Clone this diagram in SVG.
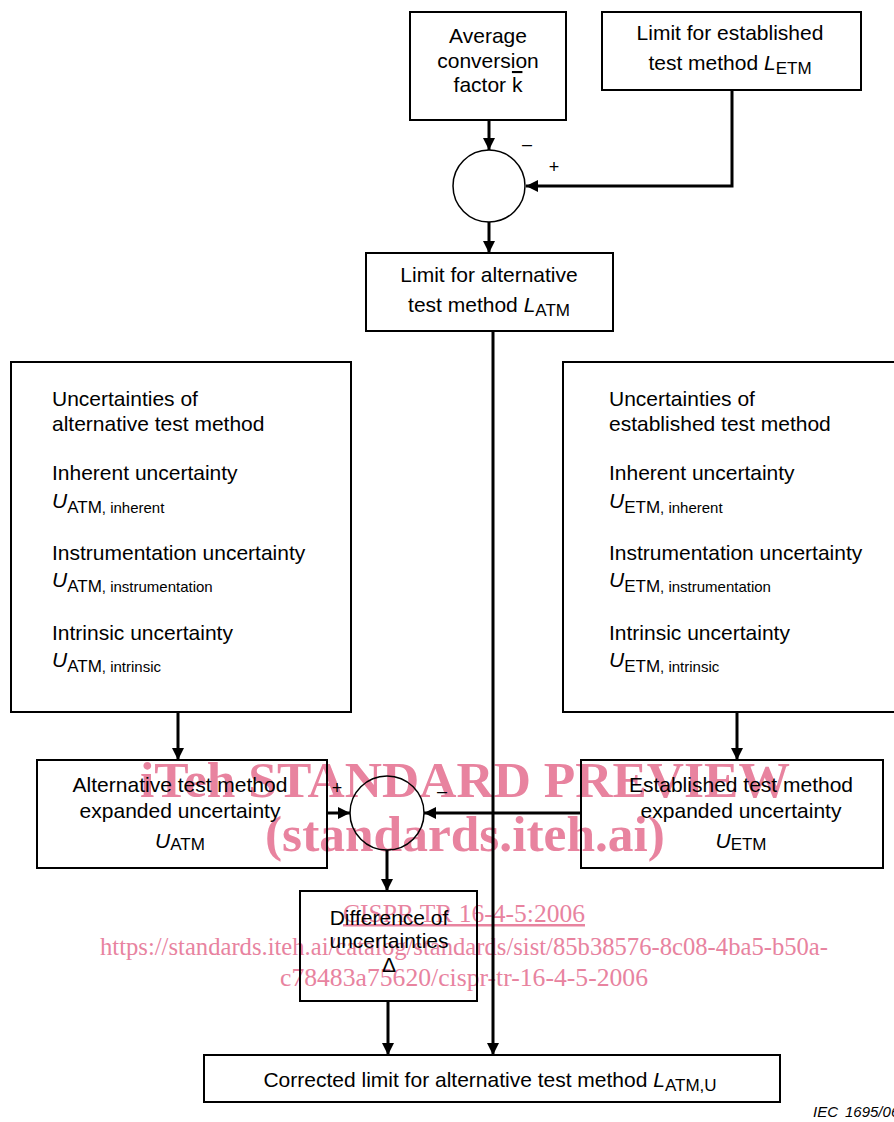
<svg xmlns="http://www.w3.org/2000/svg" width="894" height="1122" viewBox="0 0 894 1122">
  <defs>
    <style>
      .box { fill: none; stroke: #000; stroke-width: 2; }
      .conn { fill: none; stroke: #000; stroke-width: 3; }
      .t { font-family: "Liberation Sans", Arial, sans-serif; font-size: 21px; fill: #000; }
      .c { text-anchor: middle; }
      .it { font-style: italic; }
      .sub { font-size: 17px; }
      .sub2 { font-size: 15px; }
      .sign { font-family: "Liberation Sans", Arial, sans-serif; font-size: 18px; fill: #000; text-anchor: middle; }
      .wm { font-family: "Liberation Serif", "Times New Roman", serif; fill: #e8839f; }
      .wmb { font-weight: bold; font-size: 50px; }
      .wms { font-size: 25px; }
    </style>
    <marker id="arr" markerUnits="userSpaceOnUse" markerWidth="14" markerHeight="14" refX="12" refY="6" orient="auto">
      <path d="M0,0 L12,6 L0,12 z" fill="#000"/>
    </marker>
  </defs>
  <rect width="894" height="1122" fill="#fff"/>

  <g id="watermark">
    <text class="wm wmb" x="140" y="797" textLength="650" lengthAdjust="spacingAndGlyphs">iTeh STANDARD PREVIEW</text>
    <text class="wm wmb" x="265" y="851" textLength="400" lengthAdjust="spacingAndGlyphs">(standards.iteh.ai)</text>
    <text class="wm wms" x="343" y="922" textLength="242" lengthAdjust="spacingAndGlyphs" text-decoration="underline">CISPR TR 16-4-5:2006</text>
    <text class="wm wms" x="100" y="955" textLength="728" lengthAdjust="spacingAndGlyphs">https://standards.iteh.ai/catalog/standards/sist/85b38576-8c08-4ba5-b50a-</text>
    <text class="wm wms" x="280" y="986" textLength="368" lengthAdjust="spacingAndGlyphs">c78483a75620/cispr-tr-16-4-5-2006</text>
  </g>

  <g id="connectors">
    <line class="conn" x1="489" y1="120" x2="489" y2="150" marker-end="url(#arr)"/>
    <path class="conn" d="M732,90 L732,186 L526,186" marker-end="url(#arr)"/>
    <line class="conn" x1="489" y1="222" x2="489" y2="253" marker-end="url(#arr)"/>
    <line class="conn" x1="493" y1="331" x2="493" y2="1055" marker-end="url(#arr)"/>
    <line class="conn" x1="178" y1="712" x2="178" y2="760" marker-end="url(#arr)"/>
    <line class="conn" x1="737" y1="712" x2="737" y2="760" marker-end="url(#arr)"/>
    <line class="conn" x1="327" y1="813" x2="350" y2="813" marker-end="url(#arr)"/>
    <line class="conn" x1="581" y1="813" x2="424" y2="813" marker-end="url(#arr)"/>
    <line class="conn" x1="387" y1="850" x2="387" y2="891" marker-end="url(#arr)"/>
    <line class="conn" x1="388" y1="1001" x2="388" y2="1055" marker-end="url(#arr)"/>
  </g>

  <g id="avg-factor">
    <rect class="box" x="410" y="12" width="156" height="108"/>
    <text class="t c" x="488" y="43">Average</text>
    <text class="t c" x="488" y="68">conversion</text>
    <text class="t c" x="488" y="92">factor <tspan text-decoration="overline">k</tspan></text>
  </g>

  <g id="limit-etm">
    <rect class="box" x="602" y="12" width="259" height="78"/>
    <text class="t c" x="730" y="40">Limit for established</text>
    <text class="t c" x="730" y="70">test method <tspan class="it">L</tspan><tspan class="sub" dy="4">ETM</tspan></text>
  </g>

  <g id="sum1">
    <circle cx="489" cy="186" r="36" fill="none" stroke="#000" stroke-width="1.5"/>
    <text class="sign" x="527" y="150">–</text>
    <text class="sign" x="554" y="173">+</text>
  </g>

  <g id="limit-atm">
    <rect class="box" x="366" y="253" width="247" height="78"/>
    <text class="t c" x="489" y="282">Limit for alternative</text>
    <text class="t c" x="489" y="312">test method <tspan class="it">L</tspan><tspan class="sub" dy="4">ATM</tspan></text>
  </g>

  <g id="unc-atm">
    <rect class="box" x="11" y="362" width="340" height="350"/>
    <text class="t" x="52" y="406">Uncertainties of</text>
    <text class="t" x="52" y="431">alternative test method</text>
    <text class="t" x="52" y="480">Inherent uncertainty</text>
    <text class="t" x="52" y="508"><tspan class="it">U</tspan><tspan class="sub" dy="5">ATM</tspan><tspan class="sub2">, inherent</tspan></text>
    <text class="t" x="52" y="560">Instrumentation uncertainty</text>
    <text class="t" x="52" y="587"><tspan class="it">U</tspan><tspan class="sub" dy="5">ATM</tspan><tspan class="sub2">, instrumentation</tspan></text>
    <text class="t" x="52" y="640">Intrinsic uncertainty</text>
    <text class="t" x="52" y="667"><tspan class="it">U</tspan><tspan class="sub" dy="5">ATM</tspan><tspan class="sub2">, intrinsic</tspan></text>
  </g>

  <g id="unc-etm">
    <rect class="box" x="563" y="362" width="340" height="350"/>
    <text class="t" x="609" y="406">Uncertainties of</text>
    <text class="t" x="609" y="431">established test method</text>
    <text class="t" x="609" y="480">Inherent uncertainty</text>
    <text class="t" x="609" y="508"><tspan class="it">U</tspan><tspan class="sub" dy="5">ETM</tspan><tspan class="sub2">, inherent</tspan></text>
    <text class="t" x="609" y="560">Instrumentation uncertainty</text>
    <text class="t" x="609" y="587"><tspan class="it">U</tspan><tspan class="sub" dy="5">ETM</tspan><tspan class="sub2">, instrumentation</tspan></text>
    <text class="t" x="609" y="640">Intrinsic uncertainty</text>
    <text class="t" x="609" y="667"><tspan class="it">U</tspan><tspan class="sub" dy="5">ETM</tspan><tspan class="sub2">, intrinsic</tspan></text>
  </g>

  <g id="exp-atm">
    <rect class="box" x="37" y="760" width="290" height="108"/>
    <text class="t c" x="180" y="792">Alternative test method</text>
    <text class="t c" x="180" y="818">expanded uncertainty</text>
    <text class="t c" x="180" y="848"><tspan class="it">U</tspan><tspan class="sub" dy="2">ATM</tspan></text>
  </g>

  <g id="exp-etm">
    <rect class="box" x="581" y="760" width="302" height="108"/>
    <text class="t c" x="741" y="792">Established test method</text>
    <text class="t c" x="741" y="818">expanded uncertainty</text>
    <text class="t c" x="741" y="848"><tspan class="it">U</tspan><tspan class="sub" dy="2">ETM</tspan></text>
  </g>

  <g id="sum2">
    <circle cx="387" cy="813" r="37" fill="none" stroke="#000" stroke-width="1.5"/>
    <text class="sign" x="337" y="794">+</text>
    <text class="sign" x="442" y="797">–</text>
  </g>

  <g id="difference">
    <rect class="box" x="300" y="891" width="177" height="110"/>
    <text class="t c" x="389" y="925">Difference of</text>
    <text class="t c" x="389" y="948">uncertainties</text>
    <text class="t c" x="389" y="972">Δ</text>
  </g>

  <g id="corrected">
    <rect class="box" x="204" y="1055" width="576" height="47"/>
    <text class="t c" x="490" y="1087">Corrected limit for alternative test method <tspan class="it">L</tspan><tspan class="sub" dy="4">ATM,U</tspan></text>
  </g>

  <text x="813" y="1117" font-family="Liberation Sans, Arial, sans-serif" font-size="15" font-style="italic" fill="#000">IEC<tspan x="845">1695/06</tspan></text>
</svg>
